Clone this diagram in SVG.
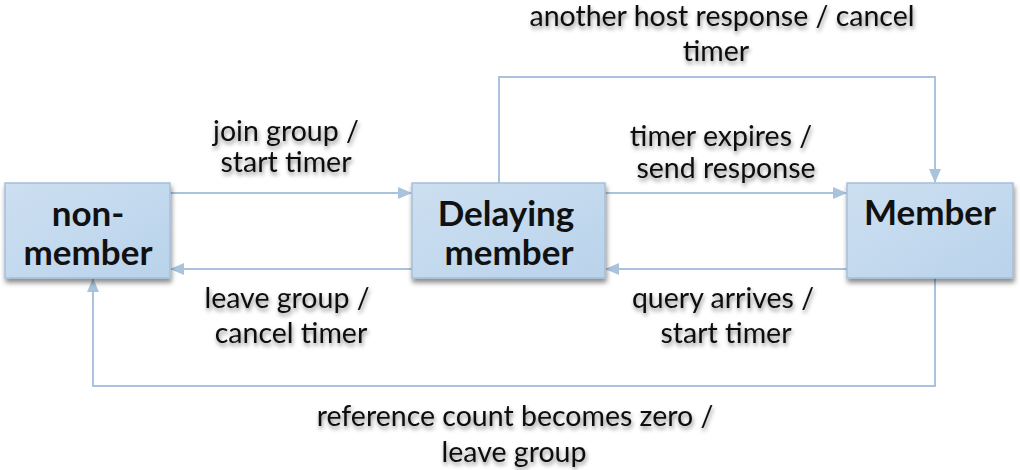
<svg xmlns="http://www.w3.org/2000/svg" width="1020" height="470" viewBox="0 0 1020 470">
<defs>
<linearGradient id="nodeFill" x1="0" y1="0" x2="1" y2="1">
<stop offset="0" stop-color="#cddff1"/>
<stop offset="1" stop-color="#b9d3eb"/>
</linearGradient>
<filter id="boxShadow" x="-10%" y="-10%" width="125%" height="130%">
<feDropShadow dx="1" dy="4" stdDeviation="2.5" flood-color="#000" flood-opacity="0.45"/>
</filter>
<filter id="textShadow" x="-10%" y="-30%" width="120%" height="170%">
<feDropShadow dx="1" dy="3" stdDeviation="2" flood-color="#000" flood-opacity="0.45"/>
</filter>
<marker id="arrow" viewBox="0 0 14 12" refX="13" refY="6" markerWidth="14" markerHeight="12" markerUnits="userSpaceOnUse" orient="auto">
<path d="M0,0 L14,6 L0,12 Z" fill="#a9c3dc"/>
</marker>
</defs>
<style>
.node rect { fill: url(#nodeFill); stroke: #a6bfd9; stroke-width: 1.5; filter: url(#boxShadow); }
.node text { font-family: "Lato", "Open Sans", sans-serif; font-weight: bold; font-size: 35px; fill: #111; text-anchor: middle; }
.conn { fill: none; stroke: #a9c3dc; stroke-width: 2; marker-end: url(#arrow); }
.lbl { font-family: "Lato", "Open Sans", sans-serif; font-size: 28.5px; fill: #111; text-anchor: middle; filter: url(#textShadow); }
</style>
<g id="connectors">
<path class="conn" d="M170,193 L411,193"/>
<path class="conn" d="M412,269 L171,269"/>
<path class="conn" d="M605,193 L846,193"/>
<path class="conn" d="M847,269 L606,269"/>
<path class="conn" d="M499,183 L499,77 L935,77 L935,182"/>
<path class="conn" d="M935,278 L935,386 L93,386 L93,279"/>
</g>
<g id="node-nonmember" class="node">
<rect x="5" y="183" width="165" height="95"/>
<text x="88" y="226">non-</text>
<text x="88" y="265">member</text>
</g>
<g id="node-delaying" class="node">
<rect x="412" y="183" width="193" height="95"/>
<text x="506" y="226">Delaying</text>
<text x="509" y="265">member</text>
</g>
<g id="node-member" class="node">
<rect x="847" y="183" width="166" height="95"/>
<text x="930" y="225">Member</text>
</g>
<g id="labels">
<text class="lbl" x="722" y="26">another host response / cancel</text>
<text class="lbl" x="716" y="61">timer</text>
<text class="lbl" x="286" y="141">join group /</text>
<text class="lbl" x="286" y="172">start timer</text>
<text class="lbl" x="721" y="146">timer expires /</text>
<text class="lbl" x="726" y="178">send response</text>
<text class="lbl" x="287" y="308">leave group /</text>
<text class="lbl" x="291" y="343">cancel timer</text>
<text class="lbl" x="723" y="308">query arrives /</text>
<text class="lbl" x="726" y="343">start timer</text>
<text class="lbl" x="515" y="426">reference count becomes zero /</text>
<text class="lbl" x="514" y="462">leave group</text>
</g>
</svg>
